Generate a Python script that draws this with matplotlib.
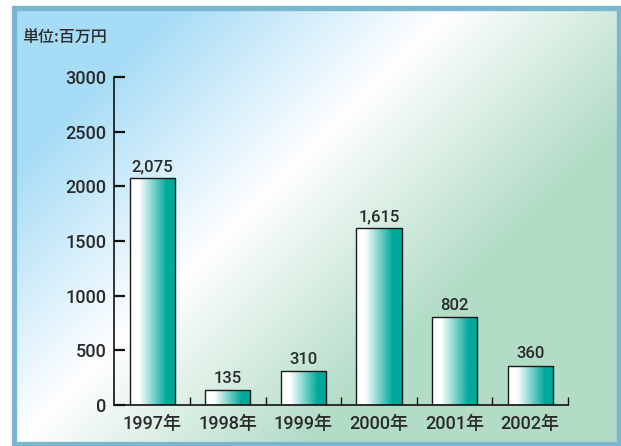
import numpy as np
import matplotlib
matplotlib.use("Agg")
import matplotlib.pyplot as plt
from matplotlib.colors import LinearSegmentedColormap
from matplotlib.patches import Rectangle

# data
years = ["1997年", "1998年", "1999年", "2000年", "2001年", "2002年"]
values = [2075, 135, 310, 1615, 802, 360]
value_labels = ["2,075", "135", "310", "1,615", "802", "360"]
unit_label = "単位:百万円"

fonts = ["Roboto", "Noto Sans CJK JP", "DejaVu Sans"]
plt.rcParams["font.family"] = fonts
plt.rcParams["font.weight"] = "medium"
txt = "#2a2a2a"

W, H = 621, 446
fig = plt.figure(figsize=(W / 100, H / 100), dpi=100)

# background panel with diagonal gradient
bg = fig.add_axes([0, 0, 1, 1])
bg.set_xlim(0, W)
bg.set_ylim(H, 0)
bg.axis("off")
xx, yy = np.meshgrid(np.arange(16, 617), np.arange(10, 442))
t = np.clip((xx + yy * 1.0 - 180) / 620, 0, 1)
bg_cmap = LinearSegmentedColormap.from_list(
    "bg", [(0, "#a6dcf6"), (0.45, "#ffffff"), (0.9, "#b4ddc8"), (1, "#b2dcc5")])
bg.imshow(t, cmap=bg_cmap, extent=(16, 617, 442, 10), aspect="auto", vmin=0, vmax=1)
bg.add_patch(Rectangle((13.5, 7.5), 605, 436, fill=False, edgecolor="#79b6d0", lw=3.8))
bg.text(22, 37, unit_label, fontsize=11.5, color=txt, va="center", ha="left",
        family=["Noto Sans CJK JP", "DejaVu Sans"])

# chart axes
ax = fig.add_axes([114.4 / W, 1 - 405 / H, (568 - 114.4) / W, (405 - 77) / H])
ax.patch.set_alpha(0)
x = np.arange(len(years))
bars = ax.bar(x, values, width=0.6, facecolor="none", edgecolor="#1a1a1a", lw=1.0, zorder=3)

bar_cmap = LinearSegmentedColormap.from_list(
    "bar", [(0, "#ffffff"), (0.2, "#ffffff"), (0.8, "#00a99a"), (1, "#00a99a")])
grad = np.linspace(0, 1, 256).reshape(1, -1)
for b in bars:
    x0, w, h = b.get_x(), b.get_width(), b.get_height()
    im = ax.imshow(grad, cmap=bar_cmap, extent=(x0, x0 + w, 0, h), aspect="auto", zorder=2)
    im.set_clip_path(b)

for xi, v, lab in zip(x, values, value_labels):
    ax.annotate(lab, (xi, v), xytext=(0, 3), textcoords="offset points",
                ha="center", va="bottom", fontsize=12, color=txt)

ax.set_xlim(-0.5, 5.5)
ax.set_ylim(0, 3000)
ax.set_yticks(range(0, 3001, 500))
ax.set_xticks(x)
ax.set_xticklabels(years)
ax.set_xticks(np.arange(0.5, 6, 1), minor=True)
for s in ["top", "right"]:
    ax.spines[s].set_visible(False)
for s in ["left", "bottom"]:
    ax.spines[s].set_linewidth(1.2)
    ax.spines[s].set_color("#111111")
ax.tick_params(axis="y", direction="in", length=8, width=1.6, pad=6,
               labelsize=13, labelcolor=txt, color="#111111")
ax.tick_params(axis="x", which="major", length=0, pad=7, labelsize=13, labelcolor=txt)
ax.tick_params(axis="x", which="minor", direction="in", length=5.5, width=1.0, color="#111111")

fig.savefig("out.png", dpi=100)
